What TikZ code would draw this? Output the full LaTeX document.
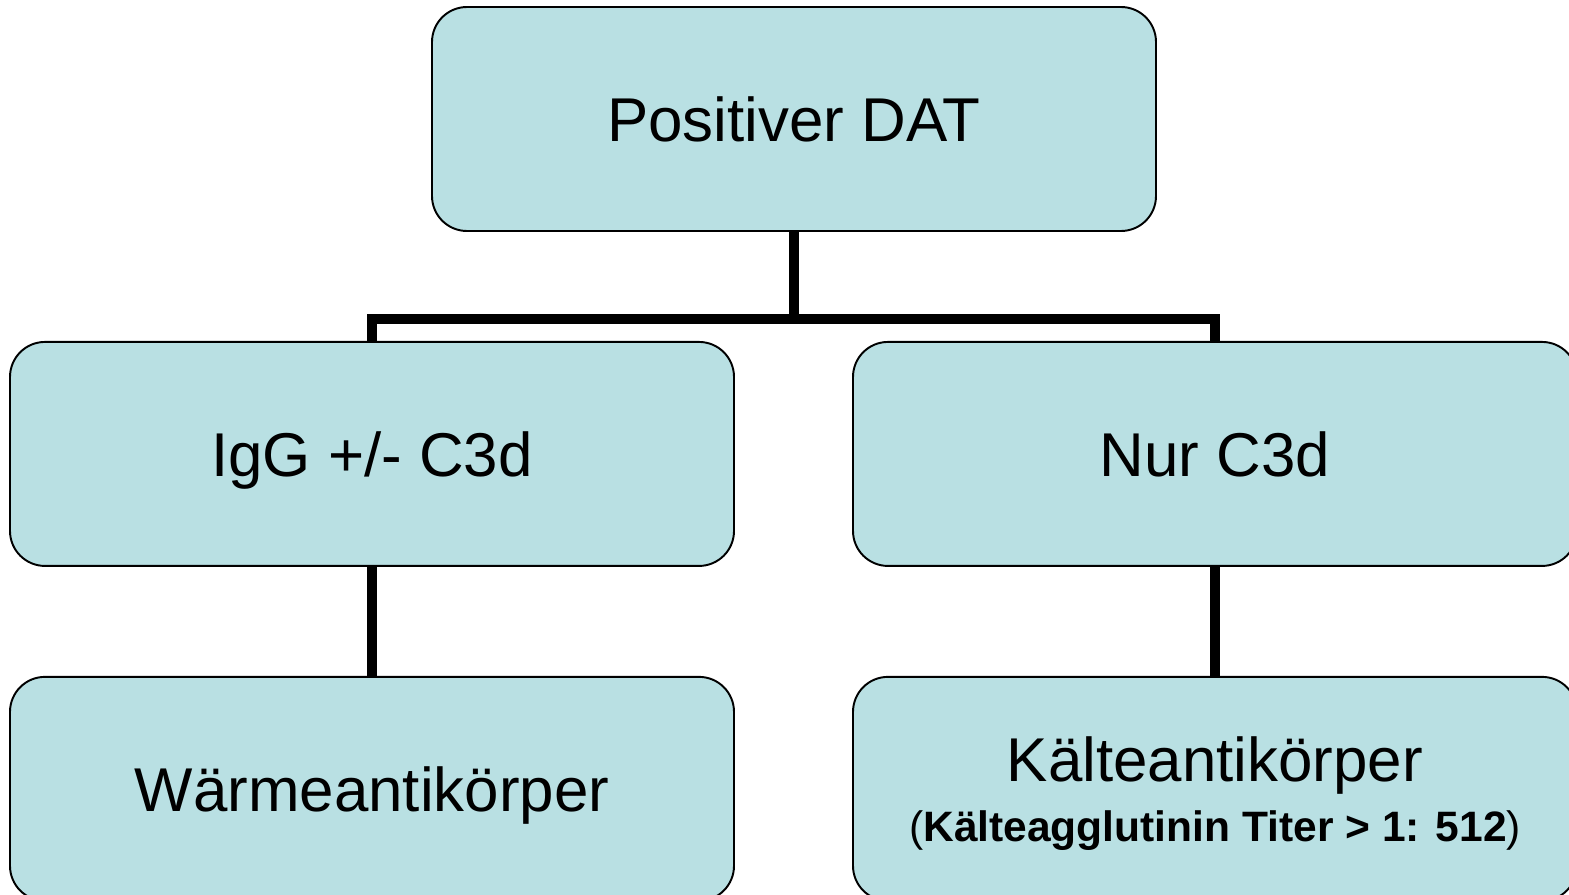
\documentclass[tikz,border=0pt]{standalone}
\usepackage{fontspec}
\setmainfont{Liberation Sans}
\usetikzlibrary{positioning}
\definecolor{boxfill}{HTML}{B9E0E3}

\begin{document}
\begin{tikzpicture}[
    box/.style={draw=black, line width=1.1pt, fill=boxfill, rounded corners=0.7cm,
      minimum width=14.48cm, minimum height=4.48cm, align=center, text depth=0pt,
      font=\fontsize{35.2}{40}\selectfont},
    link/.style={line width=0.2cm},
    node distance=2.18cm
  ]
  \useasboundingbox (0,0) rectangle (31.38,-17.9);
      % Define nodes
      \node[box] (dat) at (15.88,-2.38) {Positiver DAT};
      \node[box, below=of dat, xshift=-8.44cm] (igg) {IgG +/- C3d};
      \node[box, below=of dat, xshift=8.42cm] (nur) {Nur C3d};
      \node[box, below=of igg] (warm) {Wärmeantikörper};
      \node[box, below=of nur] (kalt) {Kälteantikörper\\[-0.2cm]
        {\fontsize{24.2}{28}\selectfont(\textbf{Kälteagglutinin Titer > 1: 512})}};
      \coordinate[below=1.75cm of dat.south] (fork);
      % Connectors
      \draw[link] (dat.south) -- (fork);
      \draw[link] (igg.north) -- (igg.north |- fork) -- (nur.north |- fork) -- (nur.north);
      \draw[link] (igg) -- (warm);
      \draw[link] (nur) -- (kalt);
\end{tikzpicture}
\end{document}
